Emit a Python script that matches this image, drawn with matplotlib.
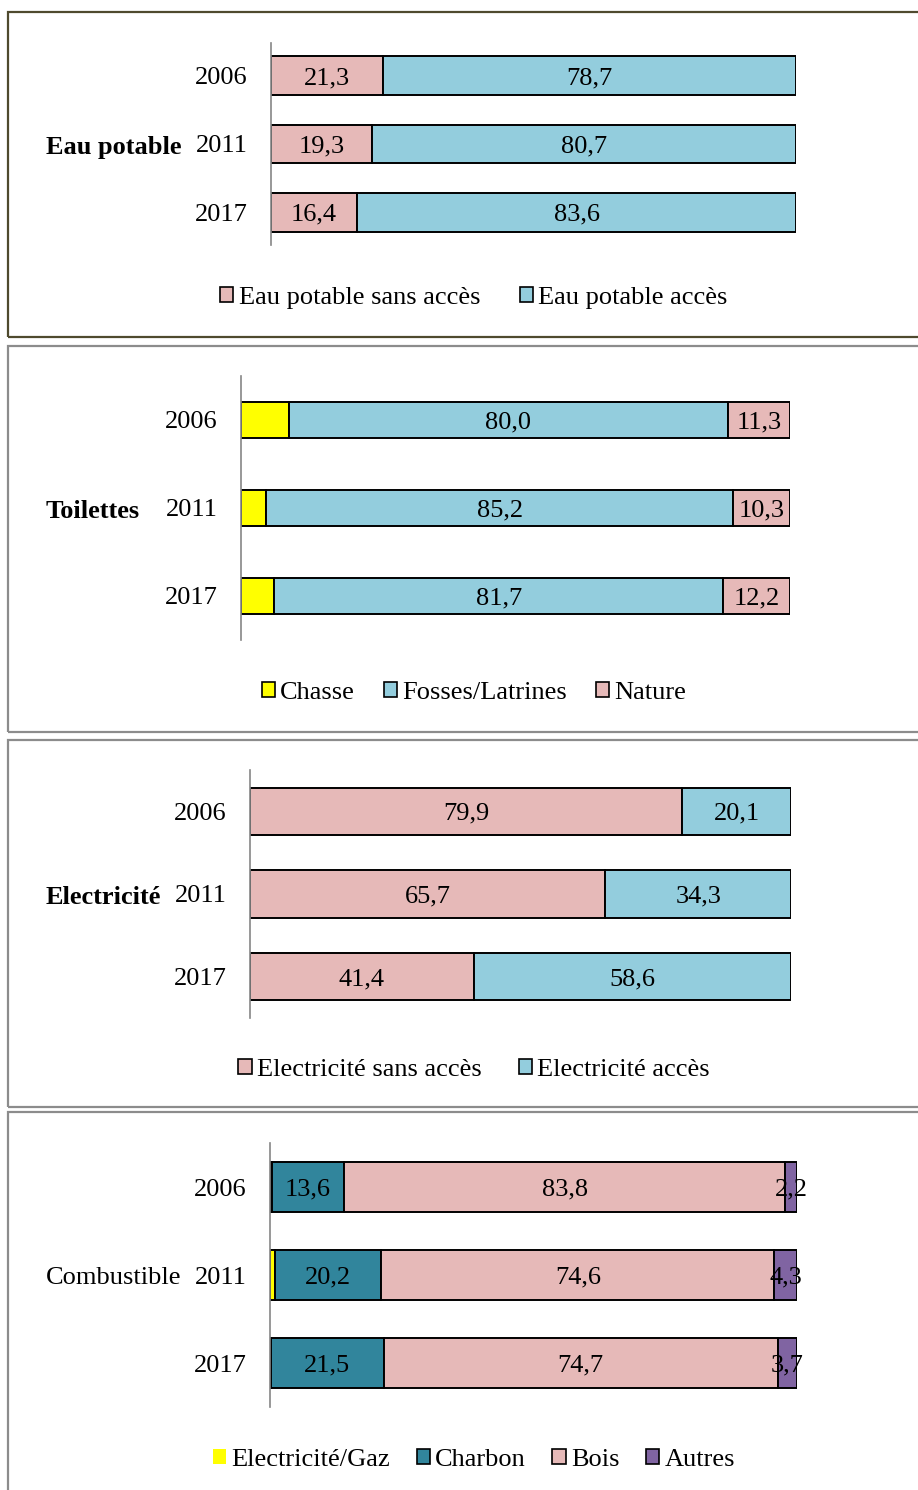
import numpy as np
import matplotlib
matplotlib.use('Agg')
import matplotlib.pyplot as plt
from matplotlib.patches import Rectangle, Patch

plt.rcParams['font.family'] = ['Liberation Serif', 'DejaVu Serif']
plt.rcParams['font.size'] = 19

years = ['2006', '2011', '2017']

# Eau potable
eau_sans = [21.3, 19.3, 16.4]
eau_acces = [78.7, 80.7, 83.6]
# Toilettes
chasse = [8.7, 4.5, 6.1]
fosses = [80.0, 85.2, 81.7]
nature = [11.3, 10.3, 12.2]
# Electricite
elec_sans = [79.9, 65.7, 41.4]
elec_acces = [20.1, 34.3, 58.6]
# Combustible
comb_elec = [0.4, 0.9, 0.1]
charbon = [13.6, 20.2, 21.5]
bois = [83.8, 74.6, 74.7]
autres = [2.2, 4.3, 3.7]

PINK = '#e6b9b8'
BLUE = '#93cddd'
YELLOW = '#ffff00'
TEAL = '#31859c'
PURPLE = '#8064a2'

W, H = 918, 1490
FS = 19
fig = plt.figure(figsize=(W / 100, H / 100), dpi=100)


def fx(x):
    return x / W


def fy(y):
    return 1 - y / H


def box(x0, y0, x1, y1, color):
    fig.patches.append(Rectangle((fx(x0), fy(y1)), fx(x1 - x0), (y1 - y0) / H,
                                 transform=fig.transFigure, fill=False,
                                 edgecolor=color, linewidth=1.6))


def panel(x0, x1, ytop, ybot, margin, bh, series, names, colors, labelled,
          title, title_y, bold, leg_y, colsp, noedge=()):
    ax = fig.add_axes([fx(x0), fy(ybot), fx(x1 - x0), (ybot - ytop) / H])
    pos = np.arange(len(years))
    left = np.zeros(len(years))
    handles = []
    for vals, name, col, lab in zip(series, names, colors, labelled):
        ax.barh(pos, vals, left=left, height=bh, color=col,
                edgecolor='black', linewidth=1.4)
        if lab:
            for p, l, v in zip(pos, left, vals):
                ax.text(l + v / 2, p, f'{v:.1f}'.replace('.', ','),
                        ha='center', va='center_baseline', fontsize=FS)
        left += np.array(vals)
        ec = 'none' if name in noedge else 'black'
        handles.append(Patch(facecolor=col, edgecolor=ec, linewidth=1.2, label=name))
    ax.set_xlim(0, 100)
    ax.set_ylim(len(years) - 1 + margin, -margin)
    ax.set_yticks(pos)
    ax.set_yticklabels(years)
    ax.tick_params(axis='y', length=0, pad=17, labelsize=FS)
    ax.set_xticks([])
    for s in ['top', 'right', 'bottom']:
        ax.spines[s].set_visible(False)
    ax.spines['left'].set_color('#868686')
    ax.spines['left'].set_linewidth(1.2)
    fig.text(fx(46), fy(title_y), title, ha='left', va='center_baseline',
             fontweight='bold' if bold else 'normal', fontsize=FS)
    fig.legend(handles=handles, loc='center', bbox_to_anchor=(fx(474), fy(leg_y)),
               ncol=len(handles), frameon=False, handlelength=0.5,
               handleheight=0.5, handletextpad=0.2, columnspacing=colsp,
               fontsize=FS)
    return ax


box(8, 12, 930, 337, '#4f4a2e')
box(8, 346, 930, 732, '#8c8c8c')
box(8, 740, 930, 1107, '#8c8c8c')
box(8, 1112, 930, 1520, '#8c8c8c')

panel(271, 796, 43, 245, 0.48, 0.57, [eau_sans, eau_acces],
      ['Eau potable sans accès', 'Eau potable accès'], [PINK, BLUE],
      [True, True], 'Eau potable', 145, True, 298, 1.5)

panel(241, 790, 376, 640, 0.5, 0.4, [chasse, fosses, nature],
      ['Chasse', 'Fosses/Latrines', 'Nature'], [YELLOW, BLUE, PINK],
      [False, True, True], 'Toilettes', 509, True, 693, 1.1)

panel(250, 791, 770, 1018, 0.5, 0.57, [elec_sans, elec_acces],
      ['Electricité sans accès', 'Electricité accès'], [PINK, BLUE],
      [True, True], 'Electricité', 895, True, 1070, 1.4)

panel(270, 797, 1143, 1407, 0.5, 0.57, [comb_elec, charbon, bois, autres],
      ['Electricité/Gaz', 'Charbon', 'Bois', 'Autres'],
      [YELLOW, TEAL, PINK, PURPLE], [False, True, True, True],
      'Combustible', 1276, False, 1460, 1.0, noedge=('Electricité/Gaz',))

fig.savefig('out.png', dpi=100)
